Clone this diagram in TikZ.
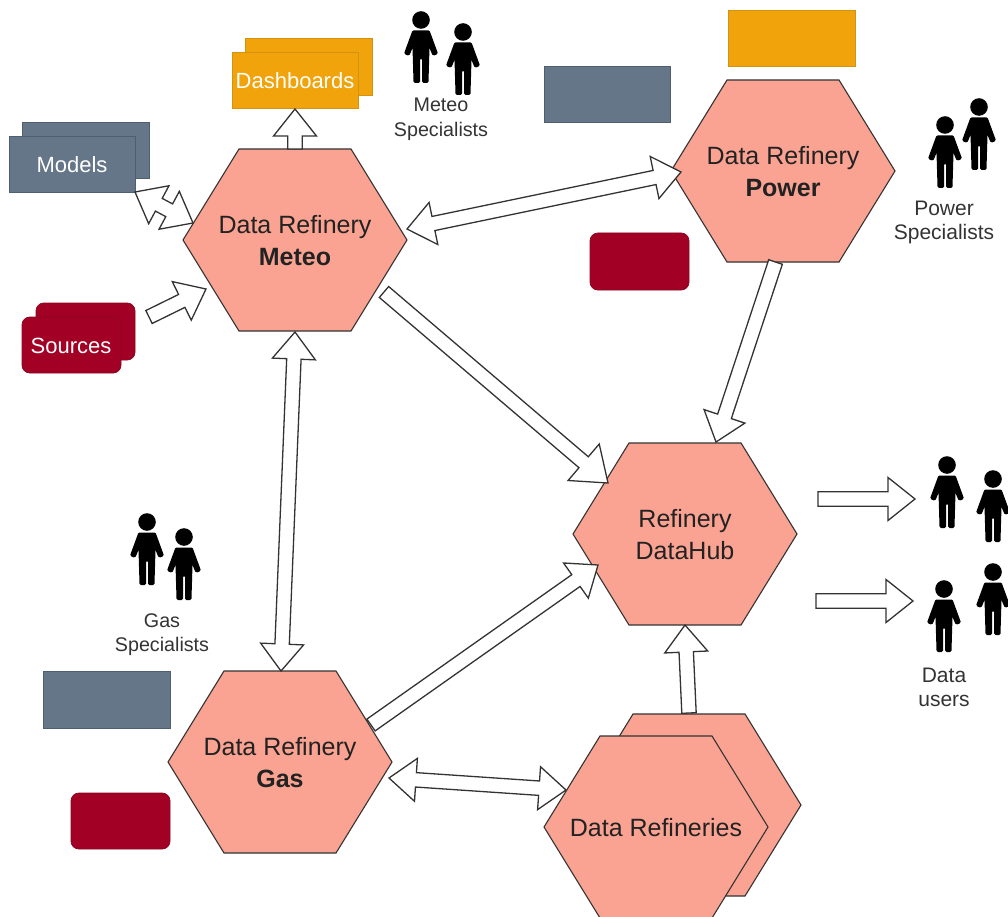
\documentclass[tikz,border=0pt]{standalone}
\usepackage{fontspec}
\setmainfont{Liberation Sans}
\usetikzlibrary{calc}
\definecolor{hexfill}{HTML}{FAA392}
\definecolor{hexline}{HTML}{333333}
\definecolor{orangefill}{HTML}{F0A30A}
\definecolor{orangeline}{HTML}{D4930F}
\definecolor{greyfill}{HTML}{647687}
\definecolor{greyline}{HTML}{4F5F6F}
\definecolor{redfill}{HTML}{A20025}
\definecolor{redline}{HTML}{8A0A22}
\definecolor{inktext}{HTML}{222222}
\definecolor{softtext}{HTML}{333333}
\tikzset{
  x=1pt,y=-1pt,
  hexshape/.style={fill=hexfill,draw=hexline,line width=1.1pt,line join=miter},
  blk/.style={fill=white,draw=hexline,line width=1.3pt,line join=miter},
  hextext/.style={text=inktext,align=center,font=\fontsize{25}{32}\selectfont,inner sep=0pt},
  boxtext/.style={text=white,font=\fontsize{22}{26}\selectfont,inner sep=0pt},
  grouptext/.style={text=softtext,align=center,font=\fontsize{19.7}{24.5}\selectfont,inner sep=0pt},
  grouptextbig/.style={text=softtext,align=center,font=\fontsize{21}{24.5}\selectfont,inner sep=0pt},
  orangebox/.style={fill=orangefill,draw=orangeline,line width=0.8pt},
  greybox/.style={fill=greyfill,draw=greyline,line width=0.8pt},
  redbox/.style={fill=redfill,draw=redline,line width=0.8pt,rounded corners=8pt},
}
\newcommand\hl{27pt}
\newcommand\hw{21.5pt}
\newcommand\sw{7.2pt}
% hexagon centred on (#2,#3) with label node #1
\newcommand\hexa[4]{%
  \draw[hexshape] (#2-112,#3) -- (#2-56,#3-91) -- (#2+56,#3-91) -- (#2+112,#3) -- (#2+56,#3+91) -- (#2-56,#3+91) -- cycle;
  \node[hextext] (#1) at (#2,#3+1) {#4};}
\newcommand\blockarrow[2]{%
  \coordinate (hh) at ($(#2)!\hl!(#1)$);
  \draw[blk] ($(#1)!\sw!90:(#2)$) -- ($(hh)!\sw!90:(#2)$) -- ($(hh)!\hw!90:(#2)$) -- (#2)
     -- ($(hh)!\hw!-90:(#2)$) -- ($(hh)!\sw!-90:(#2)$) -- ($(#1)!\sw!-90:(#2)$) -- cycle;}
\newcommand\doublearrow[2]{%
  \coordinate (hh) at ($(#2)!\hl!(#1)$);
  \coordinate (gg) at ($(#1)!\hl!(#2)$);
  \draw[blk] (#1) -- ($(gg)!\hw!-90:(#1)$) -- ($(gg)!\sw!-90:(#1)$) -- ($(hh)!\sw!90:(#2)$) -- ($(hh)!\hw!90:(#2)$) -- (#2)
     -- ($(hh)!\hw!-90:(#2)$) -- ($(hh)!\sw!-90:(#2)$) -- ($(gg)!\sw!90:(#1)$) -- ($(gg)!\hw!90:(#1)$) -- cycle;}
\newcommand\person[2]{%
  \begin{scope}[shift={(#1,#2)}]
    \fill[black] (0,0) circle[radius=8.8];
    \filldraw[black,line width=3pt,line join=round]
      (-7.5,12) -- (7.5,12) -- (15.2,33) -- (12.6,34) -- (7.2,21) -- (6,61.5) -- (2.5,61.5) -- (2.5,38) -- (-2.5,38) -- (-2.5,61.5) -- (-6,61.5) -- (-7.2,21) -- (-12.6,34) -- (-15.2,33) -- cycle;
  \end{scope}}
\begin{document}
\begin{tikzpicture}
\useasboundingbox (0,0) rectangle (1008,917);
\fill[white] (0,0) rectangle (1008,917);
% boxes
\draw[orangebox] (245,38) rectangle (372,95);
\draw[orangebox] (232,52) rectangle (358,108);
\node[boxtext] (dash) at (295,81) {Dashboards};
\draw[greybox] (22,122) rectangle (149,178);
\draw[greybox] (9,136) rectangle (135,192);
\node[boxtext] (models) at (72,164.5) {Models};
\draw[redbox] (36,303) rectangle (135,360);
\draw[redbox] (22,317) rectangle (121,373);
\node[boxtext] (sources) at (71,346) {Sources};
\draw[greybox] (544,66) rectangle (670,122);
\draw[orangebox] (728,10) rectangle (855,66);
\draw[redbox] (590,233) rectangle (689,290);
\draw[greybox] (43,671) rectangle (170,728);
\draw[redbox] (71,793) rectangle (170,849);
% hexagons
\hexa{meteo}{295}{240}{Data Refinery\\\textbf{Meteo}}
\hexa{power}{783}{171}{Data Refinery\\\textbf{Power}}
\hexa{hub}{685}{534}{Refinery\\DataHub}
\hexa{gas}{280}{762}{Data Refinery\\\textbf{Gas}}
\hexa{backref}{689}{805}{}
\hexa{refs}{656}{827}{Data Refineries}
% connector ends
\coordinate (dashTip) at (295,109);
\coordinate (dashBase) at (295,149);
\coordinate (modA) at (135,192);
\coordinate (modB) at (193,223);
\coordinate (srcBase) at (149,317);
\coordinate (srcTip) at (206,289);
\coordinate (mpA) at (407,229);
\coordinate (mpB) at (681,172);
\coordinate (mhBase) at (384,292);
\coordinate (mhTip) at (608,483);
\coordinate (phBase) at (775.5,262);
\coordinate (phTip) at (716,442);
\coordinate (mgA) at (295,332);
\coordinate (mgB) at (281,671);
\coordinate (ghBase) at (371,725);
\coordinate (ghTip) at (598,565);
\coordinate (grA) at (389,778);
\coordinate (grB) at (566,790);
\coordinate (rhBase) at (689,713);
\coordinate (rhTip) at (685,625);
\coordinate (u1Base) at (818,499);
\coordinate (u1Tip) at (915,499);
\coordinate (u2Base) at (816,601);
\coordinate (u2Tip) at (913,601);
\blockarrow{dashBase}{dashTip}
\doublearrow{modA}{modB}
\blockarrow{srcBase}{srcTip}
\doublearrow{mpA}{mpB}
\begin{scope}
  \renewcommand\hl{32pt}\renewcommand\hw{24pt}
  \blockarrow{mhBase}{mhTip}
\end{scope}
\blockarrow{phBase}{phTip}
\doublearrow{mgA}{mgB}
\blockarrow{ghBase}{ghTip}
\doublearrow{grA}{grB}
\blockarrow{rhBase}{rhTip}
\blockarrow{u1Base}{u1Tip}
\blockarrow{u2Base}{u2Tip}
% people
\person{421}{20}\person{463}{32}
\person{945}{125}\person{979}{107}
\person{147}{522}\person{184}{537}
\person{947}{465}\person{993}{479}
\person{944}{589}\person{993}{572}
% group labels
\node[grouptext] (meteoLabel) at (441,119.5) {Meteo\\Specialists};
\node[grouptextbig] (powerLabel) at (944,222.5) {Power\\Specialists};
\node[grouptext] (gasLabel) at (162,634.5) {Gas\\Specialists};
\node[grouptextbig] (usersLabel) at (944,687.5) {Data\\users};
\end{tikzpicture}
\end{document}
